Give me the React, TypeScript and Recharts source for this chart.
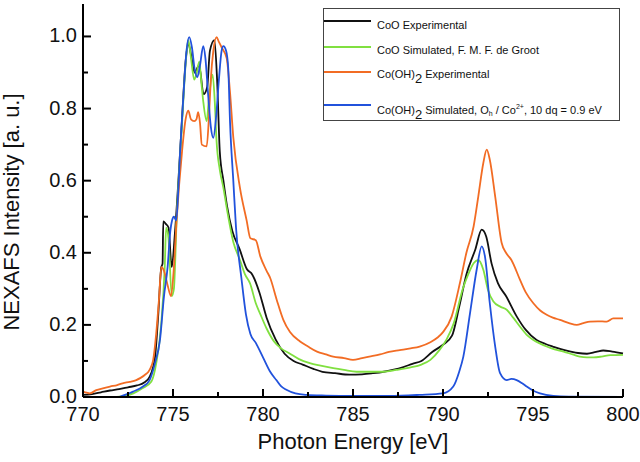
import { LineChart, Line, XAxis, YAxis, Legend } from 'recharts';

// CoO experimental (black)
const coExpE = [770, 770.5, 771, 771.5, 772, 772.5, 773, 773.4, 773.7, 774.0, 774.17, 774.35, 774.42, 774.46, 774.6, 774.75, 774.93, 775.1, 775.3, 775.5, 775.7, 775.85, 776.0, 776.2, 776.45, 776.7, 776.9, 777.05, 777.3, 777.45, 777.6, 777.8, 778.0, 778.3, 778.7, 779.1, 779.4, 779.8, 780.2, 780.7, 781.2, 781.7, 782.2, 782.8, 783.3, 784, 784.8, 785.5, 786.1, 786.7, 787.2, 787.8, 788.3, 788.8, 789.4, 790, 790.5, 790.9, 791.3, 791.8, 792.15, 792.4, 792.7, 793.05, 793.5, 794.1, 794.6, 795.2, 795.7, 796.1, 796.6, 797.1, 797.5, 798, 798.5, 798.9, 799.4, 800];
const coExpI = [0.006, 0.008, 0.013, 0.018, 0.022, 0.027, 0.032, 0.04, 0.056, 0.11, 0.22, 0.36, 0.37, 0.487, 0.48, 0.47, 0.36, 0.45, 0.6, 0.77, 0.93, 0.98, 0.95, 0.9, 0.92, 0.84, 0.86, 0.96, 0.99, 0.88, 0.68, 0.6, 0.53, 0.46, 0.41, 0.355, 0.34, 0.29, 0.22, 0.16, 0.12, 0.1, 0.09, 0.078, 0.07, 0.066, 0.062, 0.063, 0.066, 0.07, 0.075, 0.083, 0.092, 0.1, 0.125, 0.145, 0.17, 0.25, 0.34, 0.41, 0.464, 0.445, 0.37, 0.316, 0.28, 0.223, 0.186, 0.158, 0.147, 0.14, 0.132, 0.126, 0.122, 0.12, 0.125, 0.129, 0.126, 0.121];

// CoO simulated, de Groot (green)
const coSimE = [771.4, 772.2, 772.8, 773.3, 773.8, 774.07, 774.35, 774.54, 774.62, 774.75, 774.93, 775.05, 775.2, 775.48, 775.72, 775.85, 776.0, 776.18, 776.32, 776.46, 776.58, 776.68, 776.87, 777.0, 777.2, 777.32, 777.42, 777.6, 777.8, 778.0, 778.35, 778.72, 779.0, 779.28, 779.6, 779.85, 780.2, 780.6, 781.0, 781.5, 782.0, 782.6, 783.2, 783.9, 784.5, 785.2, 786, 786.7, 787.4, 788.2, 788.8, 789.3, 789.8, 790.2, 790.6, 791.1, 791.4, 791.7, 791.96, 792.24, 792.5, 792.8, 793.2, 793.54, 793.9, 794.28, 794.7, 795.02, 795.4, 795.76, 796.2, 796.7, 797.2, 797.6, 798.0, 798.35, 798.8, 799.3, 800];
const coSimI = [0, 0.002, 0.01, 0.024, 0.043, 0.094, 0.205, 0.36, 0.47, 0.44, 0.28, 0.3, 0.49, 0.74, 0.935, 0.99, 0.94, 0.88, 0.9, 0.93, 0.87, 0.82, 0.765, 0.83, 0.894, 0.82, 0.71, 0.63, 0.58, 0.52, 0.43, 0.38, 0.34, 0.315, 0.26, 0.23, 0.19, 0.155, 0.135, 0.12, 0.105, 0.094, 0.087, 0.08, 0.075, 0.07, 0.07, 0.07, 0.075, 0.082, 0.09, 0.103, 0.13, 0.16, 0.205, 0.3, 0.34, 0.371, 0.38, 0.353, 0.297, 0.265, 0.25, 0.242, 0.22, 0.195, 0.17, 0.158, 0.148, 0.14, 0.132, 0.126, 0.118, 0.112, 0.11, 0.11, 0.112, 0.116, 0.117];

// Co(OH)2 experimental (orange)
const hydExpE = [770, 770.2, 770.37, 770.74, 771.1, 771.5, 771.9, 772.2, 772.6, 772.96, 773.2, 773.43, 773.7, 773.9, 774.07, 774.22, 774.35, 774.5, 774.7, 774.89, 775.05, 775.2, 775.5, 775.7, 775.85, 776.0, 776.18, 776.3, 776.4, 776.5, 776.6, 776.87, 777.0, 777.1, 777.24, 777.42, 777.55, 777.7, 777.98, 778.16, 778.35, 778.72, 779.09, 779.3, 779.6, 779.85, 780.2, 780.4, 780.76, 781.13, 781.5, 782.06, 782.5, 783, 783.5, 783.9, 784.5, 785, 785.5, 785.9, 786.5, 787, 787.6, 788.2, 788.7, 789.3, 789.7, 790, 790.48, 790.94, 791.3, 791.7, 791.96, 792.24, 792.43, 792.6, 792.9, 793.26, 793.5, 793.8, 794.28, 794.6, 795.02, 795.4, 795.76, 796.1, 796.5, 797, 797.43, 797.8, 798.17, 798.6, 799.1, 799.46, 800];
const hydExpI = [0.015, 0.012, 0.01, 0.019, 0.024, 0.029, 0.033, 0.038, 0.042, 0.047, 0.053, 0.061, 0.075, 0.103, 0.177, 0.27, 0.36, 0.35, 0.31, 0.28, 0.36, 0.49, 0.68, 0.77, 0.794, 0.77, 0.765, 0.77, 0.79, 0.76, 0.7, 0.695, 0.78, 0.88, 0.96, 0.998, 0.985, 0.97, 0.94, 0.85, 0.72, 0.58, 0.49, 0.44, 0.435, 0.39, 0.35, 0.33, 0.27, 0.214, 0.18, 0.154, 0.14, 0.126, 0.118, 0.112, 0.108, 0.103, 0.108, 0.112, 0.118, 0.125, 0.13, 0.135, 0.14, 0.152, 0.165, 0.18, 0.223, 0.316, 0.4, 0.473, 0.556, 0.649, 0.686, 0.658, 0.556, 0.427, 0.4, 0.38, 0.325, 0.29, 0.26, 0.24, 0.228, 0.22, 0.214, 0.205, 0.2, 0.205, 0.209, 0.21, 0.209, 0.218, 0.218];

// Co(OH)2 simulated, Oh / Co2+, 10 dq = 0.9 eV (blue)
const hydSimE = [772.0, 772.78, 773.33, 773.7, 774.0, 774.28, 774.5, 774.7, 774.85, 774.95, 775.05, 775.18, 775.3, 775.39, 775.5, 775.61, 775.75, 775.9, 776.05, 776.2, 776.35, 776.5, 776.68, 776.8, 776.95, 777.1, 777.24, 777.4, 777.55, 777.7, 777.8, 777.95, 778.07, 778.17, 778.35, 778.5, 778.8, 779.05, 779.3, 779.6, 780.0, 780.4, 780.74, 781.0, 781.3, 781.8, 782.4, 783.5, 785, 787, 788.7, 790.0, 790.57, 790.9, 791.13, 791.5, 791.87, 792.15, 792.33, 792.6, 792.9, 793.17, 793.54, 793.8, 794.09, 794.4, 794.65, 795.0, 795.39, 796.13, 797, 800];
const hydSimI = [0, 0.015, 0.029, 0.047, 0.094, 0.16, 0.28, 0.36, 0.46, 0.49, 0.5, 0.49, 0.58, 0.676, 0.77, 0.86, 0.96, 0.998, 0.97, 0.91, 0.887, 0.92, 0.973, 0.94, 0.84, 0.75, 0.719, 0.78, 0.88, 0.96, 0.973, 0.96, 0.91, 0.76, 0.6, 0.47, 0.33, 0.23, 0.175, 0.15, 0.11, 0.07, 0.047, 0.03, 0.02, 0.01, 0.006, 0.004, 0.003, 0.003, 0.006, 0.01, 0.029, 0.07, 0.112, 0.232, 0.353, 0.418, 0.39, 0.26, 0.14, 0.066, 0.047, 0.05, 0.047, 0.038, 0.029, 0.018, 0.01, 0.003, 0.001, 0];

const xTicks = [770, 772.5, 775, 777.5, 780, 782.5, 785, 787.5, 790, 792.5, 795, 797.5, 800];
const yTicks = [0, 0.1, 0.2, 0.3, 0.4, 0.5, 0.6, 0.7, 0.8, 0.9, 1.0];

const FONT = '"Liberation Sans", Arial, sans-serif';
const AXIS = { stroke: '#000', strokeWidth: 2 };

const pts = (e: number[], v: number[]) => e.map((x, i) => ({ x, y: v[i] }));

const series = [
  { key: 'coExp', data: pts(coExpE, coExpI), color: '#111111' },
  { key: 'coSim', data: pts(coSimE, coSimI), color: '#80e040' },
  { key: 'hydExp', data: pts(hydExpE, hydExpI), color: '#f26c24' },
  { key: 'hydSim', data: pts(hydSimE, hydSimI), color: '#2152dc' },
];

const legendLabels: Record<string, React.ReactNode> = {
  coExp: <>CoO Experimental</>,
  coSim: <>CoO Simulated, F. M. F. de Groot</>,
  hydExp: <>Co(OH)<sub style={{ fontSize: 13, verticalAlign: -5 }}>2</sub> Experimental</>,
  hydSim: (
    <>
      Co(OH)<sub style={{ fontSize: 13, verticalAlign: -5 }}>2</sub> Simulated, O<sub style={{ fontSize: 7, verticalAlign: -2 }}>h</sub> / Co
      <sup style={{ fontSize: 7, verticalAlign: 5 }}>2+</sup>, 10 dq = 0.9 eV
    </>
  ),
};
const legendLineY = [12, 38, 63, 96];
const legendTextY = [16, 41, 65, 98];

// eslint-disable-next-line @typescript-eslint/no-explicit-any
function LegendBox({ payload }: any) {
  return (
    <div style={{ position: 'relative', width: 297, height: 113, border: '1px solid #444', boxSizing: 'border-box', background: '#fff', fontFamily: FONT, fontSize: 11, color: '#111' }}>
      {(payload ?? []).map((p: any, i: number) => (
        <div key={p.value}>
          <div style={{ position: 'absolute', left: 0, top: legendLineY[i] - 1, width: 47, height: 2, background: p.color }} />
          <div style={{ position: 'absolute', left: 53, top: legendTextY[i] - 7, lineHeight: '14px', whiteSpace: 'nowrap' }}>
            {legendLabels[p.value]}
          </div>
        </div>
      ))}
    </div>
  );
}

// ticks point inward; even index = major tick (labelled), odd = minor
// eslint-disable-next-line @typescript-eslint/no-explicit-any
function XTick({ x, y, payload, index, side }: any) {
  const major = index % 2 === 0;
  const dir = side === 'bottom' ? -1 : 1;
  return (
    <g>
      <line x1={x} y1={y} x2={x} y2={y + dir * (major ? 8 : 5)} stroke="#000" strokeWidth={2} />
      {side === 'bottom' && major && (
        <text x={x} y={y + 24} textAnchor="middle" fontSize={20} fontFamily={FONT} fill="#111">{payload.value}</text>
      )}
    </g>
  );
}

// eslint-disable-next-line @typescript-eslint/no-explicit-any
function YTick({ x, y, payload, index, side }: any) {
  const major = index % 2 === 0;
  const dir = side === 'left' ? 1 : -1;
  return (
    <g>
      <line x1={x} y1={y} x2={x + dir * (major ? 8 : 5)} y2={y} stroke="#000" strokeWidth={2} />
      {side === 'left' && major && (
        <text x={x - 6} y={y + 6} textAnchor="end" fontSize={20} fontFamily={FONT} fill="#111">{payload.value.toFixed(1)}</text>
      )}
    </g>
  );
}

const YTitle = () => (
  <text x={19} y={212} transform="rotate(-90 19 212)" textAnchor="middle" fontSize={22} fontFamily={FONT} fill="#111">
    NEXAFS Intensity [a. u.]
  </text>
);

const XTitle = () => (
  <text x={353} y={449} textAnchor="middle" fontSize={22} fontFamily={FONT} fill="#111">
    Photon Energy [eV]
  </text>
);

export default function App() {
  return (
    <div style={{ position: 'absolute', left: 0, top: 0, width: 640, height: 462, background: '#fff' }}>
      <LineChart width={640} height={462} margin={{ top: 4, right: 17, bottom: 0, left: 0 }}>
        <XAxis type="number" dataKey="x" domain={[770, 800]} ticks={xTicks} interval={0} height={65}
          axisLine={AXIS} tickLine={false} tickSize={0} tickMargin={0}
          tick={(p: any) => <XTick {...p} side="bottom" />} label={<XTitle />} />
        <XAxis xAxisId="top" orientation="top" type="number" dataKey="x" domain={[770, 800]} ticks={xTicks} interval={0} height={0}
          axisLine={AXIS} tickLine={false} tickSize={0} tickMargin={0}
          tick={(p: any) => <XTick {...p} side="top" />} />
        <YAxis type="number" domain={[0, 1.09]} allowDataOverflow ticks={yTicks} interval={0} width={83}
          axisLine={AXIS} tickLine={false} tickSize={0} tickMargin={0}
          tick={(p: any) => <YTick {...p} side="left" />} label={<YTitle />} />
        <YAxis yAxisId="right" orientation="right" type="number" domain={[0, 1.09]} allowDataOverflow ticks={yTicks} interval={0} width={0}
          axisLine={AXIS} tickLine={false} tickSize={0} tickMargin={0}
          tick={(p: any) => <YTick {...p} side="right" />} />
        <Legend layout="horizontal" verticalAlign="middle" align="center"
          wrapperStyle={{ top: 8, left: 323, width: 297, height: 113 }} content={<LegendBox />} />
        {series.map(s => (
          <Line key={s.key} data={s.data} dataKey="y" name={s.key} type="monotone" stroke={s.color}
            strokeWidth={1.8} dot={false} activeDot={false} isAnimationActive={false} />
        ))}
      </LineChart>
    </div>
  );
}
